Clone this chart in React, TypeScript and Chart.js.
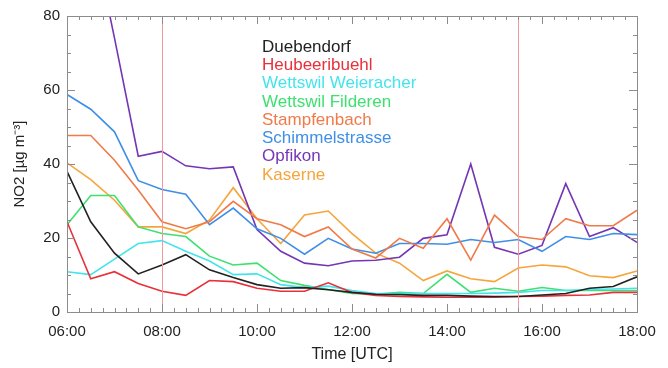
import React, { useEffect, useRef } from "react";
import { Chart, registerables } from "chart.js";

Chart.register(...registerables);

const hours = [6, 6.5, 7, 7.5, 8, 8.5, 9, 9.5, 10, 10.5, 11, 11.5, 12, 12.5, 13, 13.5, 14, 14.5, 15, 15.5, 16, 16.5, 17, 17.5, 18];

const duebendorf = [38, 24.4, 15.9, 10.3, 12.7, 15.5, 11.4, 9.3, 7.4, 6.4, 6.6, 6.0, 5.3, 4.8, 4.7, 4.5, 4.5, 4.3, 4.2, 4.2, 4.6, 5.0, 6.4, 6.9, 9.5];
const heubeeribuehl = [24.4, 9.0, 10.9, 7.7, 5.6, 4.5, 8.5, 8.2, 6.4, 5.6, 5.6, 7.9, 5.3, 4.5, 4.2, 4.1, 4.0, 4.0, 4.0, 4.2, 4.3, 4.5, 4.6, 5.3, 5.3];
const weieracher = [10.9, 10.1, 14.3, 18.5, 19.3, 16.4, 13.8, 10.1, 10.3, 7.4, 6.6, 7.0, 5.8, 5.0, 5.0, 5.0, 5.0, 5.0, 5.1, 5.3, 5.8, 5.8, 6.1, 6.2, 6.4];
const filderen = [23.6, 31.5, 31.5, 23.0, 21.2, 20.4, 15.1, 12.7, 13.2, 8.5, 7.2, 6.1, 5.0, 4.8, 5.3, 5.0, 10.2, 5.3, 6.4, 5.6, 6.6, 5.8, 5.8, 5.8, 5.8];
const stampfenbach = [47.7, 47.7, 41.0, 33.0, 24.4, 22.5, 24.4, 29.9, 25.2, 23.6, 20.4, 23.0, 17.0, 14.6, 19.9, 17.2, 25.2, 14.0, 26.2, 20.4, 19.6, 25.2, 23.3, 23.3, 27.5];
const schimmelstrasse = [58.8, 54.8, 48.7, 35.5, 33.1, 31.8, 23.6, 28.1, 22.5, 19.9, 15.6, 19.9, 17.0, 15.9, 18.5, 18.5, 18.3, 19.6, 18.8, 19.6, 16.4, 20.4, 19.6, 21.2, 20.9];
const opfikon = [100, 105, 74, 42.1, 43.4, 39.5, 38.7, 39.2, 22.3, 16.4, 13.2, 12.5, 13.8, 14.0, 14.8, 19.9, 20.9, 40.0, 17.5, 15.6, 18.0, 34.7, 20.4, 22.8, 18.8];
const kaserne = [40.3, 35.8, 30.2, 23.0, 23.0, 21.2, 24.9, 33.6, 25.2, 18.5, 26.2, 27.3, 21.2, 15.9, 13.2, 8.5, 11.1, 9.0, 8.2, 11.9, 12.7, 12.2, 9.8, 9.3, 11.1];

const stationNames = ["Duebendorf", "Heubeeribuehl", "Wettswil Weieracher", "Wettswil Filderen", "Stampfenbach", "Schimmelstrasse", "Opfikon", "Kaserne"];
const stationValues = [duebendorf, heubeeribuehl, weieracher, filderen, stampfenbach, schimmelstrasse, opfikon, kaserne];
const stationColors = ["#222222", "#e8303a", "#44e4ec", "#3ee070", "#f07a48", "#3f8fe6", "#7436b4", "#f5a53c"];

const xTickValues = [6, 8, 10, 12, 14, 16, 18];
const yTickValues = [0, 20, 40, 60, 80];
const markerTimes = [8, 15.5];

const FONT = "'Liberation Sans', Arial, Helvetica, sans-serif";

const framePlugin = {
  id: "framePlugin",
  afterDatasetsDraw(chart: any) {
    const { ctx, chartArea: a, scales } = chart;
    const xs = scales.x;
    const ys = scales.y;
    ctx.save();
    // marker lines
    ctx.strokeStyle = "#f29a9a";
    ctx.lineWidth = 1;
    for (const t of markerTimes) {
      const px = Math.round(xs.getPixelForValue(t)) + 0.5;
      ctx.beginPath();
      ctx.moveTo(px, a.top);
      ctx.lineTo(px, a.bottom);
      ctx.stroke();
    }
    // frame
    ctx.strokeStyle = "#8c8c8c";
    ctx.lineWidth = 1;
    ctx.strokeRect(Math.round(a.left) + 0.5, Math.round(a.top) + 0.5, Math.round(a.right - a.left), Math.round(a.bottom - a.top));
    // x ticks (every 15 min, major every 2 h)
    for (let m = 6 * 60; m <= 18 * 60; m += 15) {
      const h = m / 60;
      const px = Math.round(xs.getPixelForValue(h)) + 0.5;
      const len = xTickValues.includes(h) ? 8 : 4;
      ctx.beginPath();
      ctx.moveTo(px, a.bottom);
      ctx.lineTo(px, a.bottom - len);
      ctx.moveTo(px, a.top);
      ctx.lineTo(px, a.top + len);
      ctx.stroke();
    }
    for (let v = 0; v <= 80; v += 5) {
      const py = Math.round(ys.getPixelForValue(v)) + 0.5;
      const len = yTickValues.includes(v) ? 8 : 4;
      ctx.beginPath();
      ctx.moveTo(a.left, py);
      ctx.lineTo(a.left + len, py);
      ctx.moveTo(a.right, py);
      ctx.lineTo(a.right - len, py);
      ctx.stroke();
    }
    // legend
    ctx.font = "17px " + FONT;
    ctx.textBaseline = "middle";
    ctx.textAlign = "left";
    stationNames.forEach((n, i) => {
      ctx.fillStyle = stationColors[i];
      ctx.fillText(n, 262, 47 + i * 18.3);
    });
    ctx.restore();
  },
};

export default function App() {
  const ref = useRef<HTMLCanvasElement | null>(null);
  useEffect(() => {
    if (!ref.current) return;
    const chart = new Chart(ref.current, {
      type: "line",
      data: {
        datasets: stationNames.map((n, i) => ({
          label: n,
          data: hours.map((h, j) => ({ x: h, y: stationValues[i][j] })),
          borderColor: stationColors[i],
          backgroundColor: stationColors[i],
          borderWidth: 1.6,
          pointRadius: 0,
          tension: 0,
          fill: false,
        })),
      },
      options: {
        animation: false,
        responsive: false,
        maintainAspectRatio: false,
        layout: { padding: { left: 0, top: 10, right: 31, bottom: 0 } },
        plugins: { legend: { display: false }, tooltip: { enabled: false } },
        scales: {
          x: {
            type: "linear",
            min: 6,
            max: 18,
            afterFit: (s: any) => { s.height = 56; },
            afterBuildTicks: (s: any) => { s.ticks = xTickValues.map((v) => ({ value: v })); },
            grid: { display: false, drawTicks: false },
            border: { display: false },
            ticks: {
              padding: 11,
              color: "#222",
              font: { family: FONT, size: 15 },
              maxRotation: 0,
              callback: (v: any) => String(Math.floor(v)).padStart(2, "0") + ":00",
            },
            title: { display: true, text: "Time [UTC]", color: "#222", font: { family: FONT, size: 16 }, padding: { top: 0, bottom: 4 } },
          },
          y: {
            min: 0,
            max: 80,
            afterFit: (s: any) => { s.width = 67; },
            afterBuildTicks: (s: any) => { s.ticks = yTickValues.map((v) => ({ value: v })); },
            grid: { display: false, drawTicks: false },
            border: { display: false },
            ticks: { padding: 7, color: "#222", font: { family: FONT, size: 15 } },
            title: { display: true, text: "NO2 [\u00b5g m\u207b\u00b3]", color: "#222", font: { family: FONT, size: 15 }, padding: { top: 11, bottom: 0 } },
          },
        },
      },
      plugins: [framePlugin],
    });
    return () => chart.destroy();
  }, []);
  return (
    <div style={{ position: "fixed", left: 0, top: 0, width: 668, height: 368, background: "#fff" }}>
      <canvas ref={ref} width={668} height={368} style={{ width: 668, height: 368, display: "block" }} />
    </div>
  );
}
